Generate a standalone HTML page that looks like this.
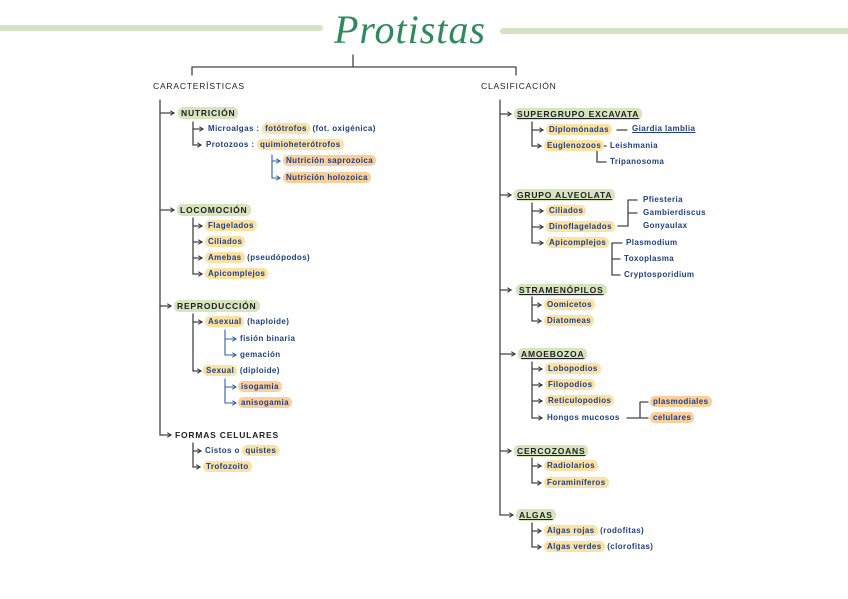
<!DOCTYPE html>
<html><head><meta charset="utf-8"><style>
body{margin:0;width:848px;height:599px;background:#fff;position:relative;overflow:hidden;font-family:"Liberation Sans",sans-serif}
.t{position:absolute;font-size:8px;line-height:10px;white-space:nowrap;color:#1d3f86;letter-spacing:.4px;font-weight:bold}
.h{color:#222;font-size:8.5px;letter-spacing:.8px;font-weight:bold}
.n{font-weight:normal}
.g{background:#d6e4c0;border-radius:5px;padding:1px 3px}
.y{background:#fbe2a3;border-radius:5px;padding:1px 3px}
.o{background:#fbcf9c;border-radius:5px;padding:1px 3px}
.u{text-decoration:underline}
svg{position:absolute;left:0;top:0}
</style></head><body>
<svg width="848" height="599" fill="none" stroke-linecap="round">
<defs>
<marker id="a" viewBox="0 0 6 6" refX="5" refY="3" markerWidth="5" markerHeight="5" orient="auto" markerUnits="userSpaceOnUse"><path d="M1 0.5L5 3L1 5.5" stroke="#333" stroke-width="1.2" fill="none"/></marker>
<marker id="b" viewBox="0 0 6 6" refX="5" refY="3" markerWidth="5" markerHeight="5" orient="auto" markerUnits="userSpaceOnUse"><path d="M1 0.5L5 3L1 5.5" stroke="#2d5fa8" stroke-width="1.2" fill="none"/></marker>
</defs>
<line x1="0" y1="28" x2="320" y2="28" stroke="#d6e3c2" stroke-width="6"/>
<line x1="503" y1="31" x2="848" y2="31" stroke="#d6e3c2" stroke-width="6"/>
<g stroke="#444" stroke-width="1.3">
<path d="M353 55V67M192 75V67H516V75"/>
<path d="M160 100V435M193 122V145M193 218V274M193 314V371M193 443V467"/>
<path d="M500 100V515M532 122V146M532 203V243M532 297V321M532 362V418M532 458V483M532 523V547"/>
<path d="M617 130H627M597 146H606M597 146V162H606M618 226H628M628 200V226M628 200H637M628 213H637M612 243H622M612 243V275H620M612 259H620M627 418H640M640 402V418M640 402H648M640 418H648"/>
</g>
<g stroke="#444" stroke-width="1.3" marker-end="url(#a)">
<path d="M160 113H174"/><path d="M160 210H174"/><path d="M160 306H171"/><path d="M160 435H171"/>
<path d="M193 129H203"/><path d="M193 145H201"/>
<path d="M193 226H202"/><path d="M193 242H202"/><path d="M193 258H202"/><path d="M193 274H202"/>
<path d="M193 322H202"/><path d="M193 371H201"/><path d="M193 451H201"/><path d="M193 467H200"/>
<path d="M500 114H511"/><path d="M500 195H511"/><path d="M500 290H511"/><path d="M500 354H515"/><path d="M500 451H511"/><path d="M500 515H513"/>
<path d="M532 130H543"/><path d="M532 146H541"/>
<path d="M532 211H543"/><path d="M532 227H543"/><path d="M532 243H543"/>
<path d="M532 305H541"/><path d="M532 321H541"/>
<path d="M532 369H542"/><path d="M532 385H542"/><path d="M532 401H542"/><path d="M532 418H542"/>
<path d="M532 466H541"/><path d="M532 483H541"/><path d="M532 531H541"/><path d="M532 547H541"/>
</g>
<g stroke="#2d5fa8" stroke-width="1.1"><path d="M272 155V178M225 330V355M225 379V403"/></g>
<g stroke="#2d5fa8" stroke-width="1.1" marker-end="url(#b)">
<path d="M272 161H280"/><path d="M272 178H280"/><path d="M225 339H236"/><path d="M225 355H236"/><path d="M225 387H236"/><path d="M225 403H236"/>
</g>
</svg>
<div style="position:absolute;left:334px;top:6px;font-family:'Liberation Serif',serif;font-style:italic;font-size:40px;color:#2e8a5a;letter-spacing:1px">Protistas</div>
<div class="t h n" style="left:153px;top:81px">CARACTERÍSTICAS</div>
<div class="t h n" style="left:481px;top:81px">CLASIFICACIÓN</div>

<div class="t h" style="left:178px;top:108px"><span class="g">NUTRICIÓN</span></div>
<div class="t" style="left:208px;top:124px">Microalgas : <span class="y">fotótrofos</span> (fot. oxigénica)</div>
<div class="t" style="left:206px;top:140px">Protozoos : <span class="y">quimioheterótrofos</span></div>
<div class="t" style="left:283px;top:156px"><span class="o">Nutrición saprozoica</span></div>
<div class="t" style="left:283px;top:173px"><span class="o">Nutrición holozoica</span></div>

<div class="t h" style="left:177px;top:205px"><span class="g">LOCOMOCIÓN</span></div>
<div class="t" style="left:205px;top:221px"><span class="y">Flagelados</span></div>
<div class="t" style="left:205px;top:237px"><span class="y">Ciliados</span></div>
<div class="t" style="left:205px;top:253px"><span class="y">Amebas</span> (pseudópodos)</div>
<div class="t" style="left:205px;top:269px"><span class="y">Apicomplejos</span></div>

<div class="t h" style="left:174px;top:301px"><span class="g">REPRODUCCIÓN</span></div>
<div class="t" style="left:205px;top:317px"><span class="y">Asexual</span> (haploide)</div>
<div class="t" style="left:240px;top:334px">fisión binaria</div>
<div class="t" style="left:240px;top:350px">gemación</div>
<div class="t" style="left:203px;top:366px"><span class="y">Sexual</span> (diploide)</div>
<div class="t" style="left:238px;top:382px"><span class="o">isogamia</span></div>
<div class="t" style="left:238px;top:398px"><span class="o">anisogamia</span></div>

<div class="t h" style="left:175px;top:430px">FORMAS CELULARES</div>
<div class="t" style="left:205px;top:446px">Cistos o <span class="y">quistes</span></div>
<div class="t" style="left:203px;top:462px"><span class="y">Trofozoito</span></div>

<div class="t h" style="left:514px;top:109px"><span class="g u">SUPERGRUPO EXCAVATA</span></div>
<div class="t" style="left:546px;top:125px"><span class="y">Diplomónadas</span></div>
<div class="t u" style="left:632px;top:124px">Giardia lamblia</div>
<div class="t" style="left:544px;top:141px"><span class="y">Euglenozoos</span></div>
<div class="t" style="left:610px;top:141px">Leishmania</div>
<div class="t" style="left:610px;top:157px">Tripanosoma</div>

<div class="t h" style="left:514px;top:190px"><span class="g u">GRUPO ALVEOLATA</span></div>
<div class="t" style="left:546px;top:206px"><span class="y">Ciliados</span></div>
<div class="t" style="left:546px;top:222px"><span class="y">Dinoflagelados</span></div>
<div class="t" style="left:546px;top:238px"><span class="y">Apicomplejos</span></div>
<div class="t" style="left:643px;top:195px">Pfiesteria</div>
<div class="t" style="left:643px;top:208px">Gambierdiscus</div>
<div class="t" style="left:643px;top:221px">Gonyaulax</div>
<div class="t" style="left:626px;top:238px">Plasmodium</div>
<div class="t" style="left:624px;top:254px">Toxoplasma</div>
<div class="t" style="left:624px;top:270px">Cryptosporidium</div>

<div class="t h" style="left:516px;top:285px"><span class="g u">STRAMENÓPILOS</span></div>
<div class="t" style="left:544px;top:300px"><span class="y">Oomicetos</span></div>
<div class="t" style="left:544px;top:316px"><span class="y">Diatomeas</span></div>

<div class="t h" style="left:518px;top:349px"><span class="g u">AMOEBOZOA</span></div>
<div class="t" style="left:545px;top:364px"><span class="y">Lobopodios</span></div>
<div class="t" style="left:545px;top:380px"><span class="y">Filopodios</span></div>
<div class="t" style="left:545px;top:396px"><span class="y">Reticulopodios</span></div>
<div class="t" style="left:547px;top:413px">Hongos mucosos</div>
<div class="t" style="left:650px;top:397px"><span class="o">plasmodiales</span></div>
<div class="t" style="left:650px;top:413px"><span class="o">celulares</span></div>

<div class="t h" style="left:514px;top:446px"><span class="g u">CERCOZOANS</span></div>
<div class="t" style="left:544px;top:461px"><span class="y">Radiolarios</span></div>
<div class="t" style="left:544px;top:478px"><span class="y">Foraminíferos</span></div>

<div class="t h" style="left:516px;top:510px"><span class="g u">ALGAS</span></div>
<div class="t" style="left:544px;top:526px"><span class="y">Algas rojas</span> (rodofitas)</div>
<div class="t" style="left:544px;top:542px"><span class="y">Algas verdes</span> (clorofitas)</div>
</body></html>
